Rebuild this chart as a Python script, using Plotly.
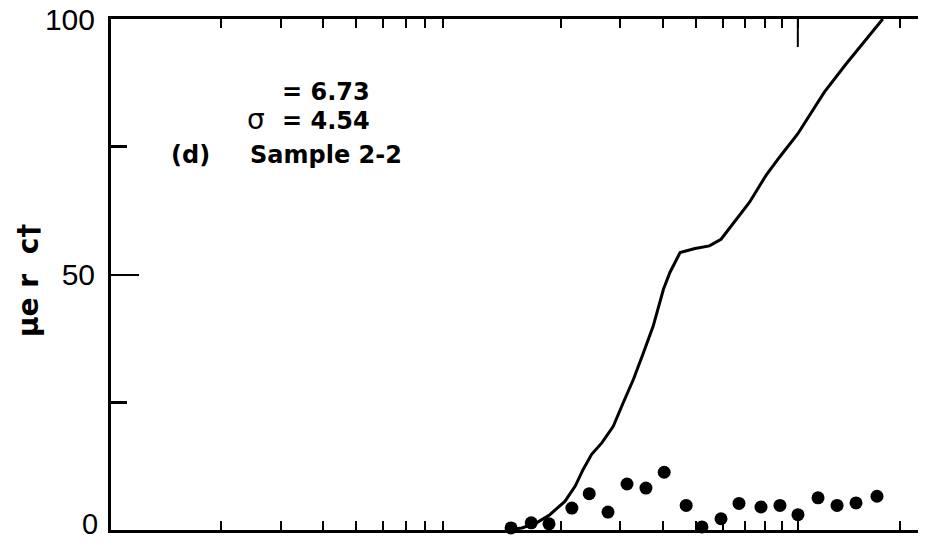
import plotly.graph_objects as go

# ---- data ----
curve_x = [13.9, 15.4, 17.0, 18.6, 20.6, 22.1, 23.3, 24.7, 26.5, 28.6, 30.6, 32.8,
           35.1, 37.5, 40.2, 42.0, 45.0, 49.8, 54.9, 59.4, 72.0, 80.6, 88.2, 99.9,
           119.7, 138.7, 177.9]
curve_y = [0.0, 0.4, 1.4, 3.0, 5.6, 8.6, 11.8, 14.8, 17.1, 20.3, 24.9, 29.5,
           34.7, 39.9, 47.1, 50.4, 54.3, 55.1, 55.6, 56.9, 64.1, 69.4, 72.9, 77.5,
           85.7, 91.2, 100.0]

dots_x = [14.3, 16.4, 18.5, 21.6, 24.3, 27.6, 31.4, 35.7, 40.4, 46.9,
          52.2, 59.4, 67.1, 77.9, 88.6, 100.1, 114.7, 130.5, 148.4, 171.1]
dots_y = [0.4, 1.4, 1.2, 4.3, 7.1, 3.5, 9.0, 8.2, 11.3, 4.8,
          0.6, 2.2, 5.2, 4.5, 4.8, 3.0, 6.3, 4.8, 5.3, 6.6]

x_ticks = [2, 3, 4, 5, 6, 7, 8, 9, 20, 30, 40, 50, 60, 70, 80, 90, 100, 200]
y_ticks = [0, 50, 100]
y_ticktext = ["", "50", "100"]
y_zero_label = "0"

title_text = "μe r  c†"
mean_text = "= 6.73"
sigma_sym = "σ"
sigma_text = "= 4.54"
panel_text = "(d)"
sample_text = "Sample 2-2"

fig = go.Figure()
fig.add_trace(go.Scatter(x=curve_x, y=curve_y, mode="lines",
                         line=dict(color="black", width=3),
                         cliponaxis=False, showlegend=False, hoverinfo="skip"))
fig.add_trace(go.Scatter(x=dots_x, y=dots_y, mode="markers",
                         marker=dict(color="black", size=13, line=dict(width=0)),
                         cliponaxis=False, showlegend=False, hoverinfo="skip"))

W, H = 952, 543
L, R, T, B = 111, 34, 19, 13
pw, ph = W - L - R, H - T - B

def px(xp):
    return (xp - L) / pw

def py(yp):
    return (H - B - yp) / ph

fig.update_layout(
    width=W, height=H,
    margin=dict(l=L, r=R, t=T, b=B, pad=0, autoexpand=False),
    paper_bgcolor="white", plot_bgcolor="white",
    showlegend=False,
    xaxis=dict(type="log", range=[-0.023, 2.354], automargin=False,
               tickmode="array", tickvals=x_ticks, showticklabels=False,
               ticks="inside", ticklen=9, tickwidth=2, tickcolor="black",
               showline=True, linecolor="black", linewidth=3, mirror="ticks",
               showgrid=False, zeroline=False),
    yaxis=dict(range=[0, 100], automargin=False,
               tickmode="array", tickvals=y_ticks, ticktext=y_ticktext,
               ticks="inside", ticklen=28, tickwidth=2, tickcolor="black",
               minor=dict(tickmode="array", tickvals=[25, 75], ticks="inside",
                          ticklen=16, tickwidth=3, tickcolor="black", showgrid=False),
               ticklabelstandoff=7,
               tickfont=dict(family="Liberation Sans", size=30, color="black"),
               showline=True, linecolor="black", linewidth=3, mirror=False,
               showgrid=False, zeroline=False),
)

# long tick on the top axis at 100
fig.add_shape(type="line", xref="x", yref="paper", x0=100, x1=100, y0=1, y1=py(47),
              line=dict(color="black", width=2))

# "0" label of the y axis (kept inside the page)
fig.add_annotation(text=y_zero_label, xref="paper", yref="paper", x=px(99), y=py(541),
                   xanchor="right", yanchor="bottom", showarrow=False, borderpad=0,
                   font=dict(family="Liberation Sans", size=29, color="black"))

bold = dict(family="DejaVu Sans", size=24, color="black", weight="bold")
fig.add_annotation(text=mean_text, xref="paper", yref="paper", x=px(280), y=py(92),
                   xanchor="left", yanchor="middle", showarrow=False, font=bold)
fig.add_annotation(text=sigma_sym, xref="paper", yref="paper", x=px(245), y=py(119),
                   xanchor="left", yanchor="middle", showarrow=False,
                   font=dict(family="DejaVu Sans", size=28, color="black"))
fig.add_annotation(text=sigma_text, xref="paper", yref="paper", x=px(280), y=py(121),
                   xanchor="left", yanchor="middle", showarrow=False, font=bold)
fig.add_annotation(text=panel_text, xref="paper", yref="paper", x=px(169), y=py(155),
                   xanchor="left", yanchor="middle", showarrow=False, font=bold)
fig.add_annotation(text=sample_text, xref="paper", yref="paper", x=px(248), y=py(155),
                   xanchor="left", yanchor="middle", showarrow=False, font=bold)
fig.add_annotation(text=title_text, xref="paper", yref="paper", x=px(28), y=py(281),
                   xanchor="center", yanchor="middle", textangle=-90, showarrow=False,
                   font=dict(family="DejaVu Sans", size=28, color="black", weight="bold"))

fig.write_html("out.html", config={"displayModeBar": False},
               post_script="document.body.style.margin='0';document.body.style.overflow='hidden';")
